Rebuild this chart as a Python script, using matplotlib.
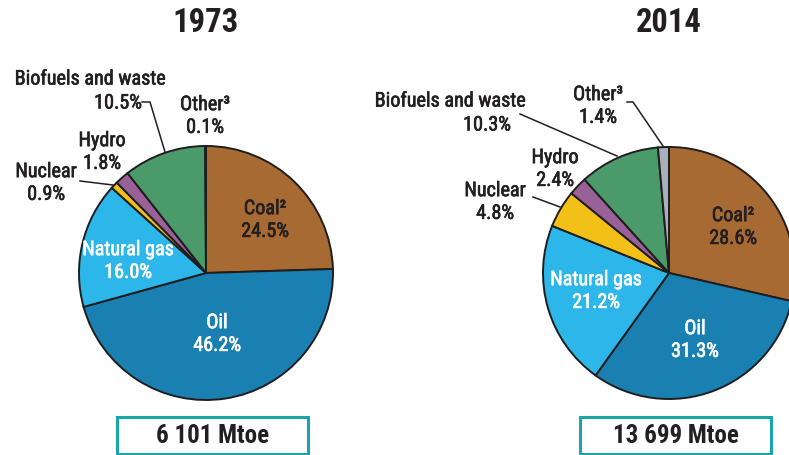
import matplotlib.pyplot as plt
import matplotlib.patches as mpatches
import matplotlib.patheffects as pe

# data
years = ['1973', '2014']
totals = ['6 101 Mtoe', '13 699 Mtoe']
sources = ['Coal²', 'Oil', 'Natural gas', 'Nuclear', 'Hydro', 'Biofuels and waste', 'Other³']
share_1973 = [24.5, 46.2, 16.0, 0.9, 1.8, 10.5, 0.1]
share_2014 = [28.6, 31.3, 21.2, 4.8, 2.4, 10.3, 1.4]

colors = ['#A86A33', '#1A80B2', '#2DB6EA', '#F3C017', '#9A6199', '#4B9A69', '#A8B0BD']
txt_col = ['#231F20', 'white', 'white', '#231F20', '#231F20', '#231F20', '#231F20']

W, H = 789, 456
plt.rcParams['font.family'] = ['Roboto Condensed', 'Liberation Sans', 'DejaVu Sans']

fig = plt.figure(figsize=(W / 100, H / 100), dpi=100)
ax = fig.add_axes([0, 0, 1, 1])

pies = [(206, 274, 127), (669, 274, 126)]
# label centres in pixels (x, y from top)
label_pos = [
    [(265, 221), (217, 335), (128, 262), (46, 184), (102, 153), (90, 80), (205, 117)],
    [(733, 228), (695, 341), (596, 292), (495, 203), (555, 170), (450, 102), (598, 107)],
]
leaders = [
    [[(80, 182), (113, 186)], [(142, 103), (150, 103), (165, 153)]],
    [[(533, 198), (560, 208)], [(520, 115), (617, 157)], [(627, 103), (633, 103), (663, 147)]],
]
lab = dict(fontsize=14.5, linespacing=1.25)


def fy(y):
    return H - y


def thick(c):
    return [pe.withStroke(linewidth=0.45, foreground=c)]


for i, vals in enumerate([share_1973, share_2014]):
    cx, cy, r = pies[i]
    ax.pie(vals, colors=colors, startangle=90, counterclock=False,
           center=(cx, fy(cy)), radius=r,
           wedgeprops=dict(edgecolor='#1E1E1E', linewidth=1.4))
    for j, v in enumerate(vals):
        x, y = label_pos[i][j]
        c = txt_col[j]
        if j == 5:
            # percentage sits right of the name
            ax.text(x, fy(y), sources[j], ha='center', va='center', color=c,
                    path_effects=thick(c), **lab)
            off = 28 if i == 0 else 37
            ax.text(x + off, fy(y + 24), f'{v:.1f}%', ha='center', va='center',
                    color=c, path_effects=thick(c), **lab)
        else:
            ax.text(x, fy(y), f'{sources[j]}\n{v:.1f}%', ha='center', va='center',
                    color=c, path_effects=thick(c), **lab)
    for seg in leaders[i]:
        ax.plot([p[0] for p in seg], [fy(p[1]) for p in seg], color='#231F20', lw=1.1)

    ax.text(cx, fy(23), years[i], ha='center', va='center', fontsize=23.5,
            fontweight='bold', color='#231F20')

    bx = cx - 89
    ax.add_patch(mpatches.Rectangle((bx, fy(455)), 191, 37, facecolor='white',
                                    edgecolor='#1AA6A8', lw=2.2))
    ax.text(bx + 95.5, fy(436.5), totals[i], ha='center', va='center', fontsize=18,
            fontweight='bold', color='#231F20')

ax.set_xlim(0, W)
ax.set_ylim(0, H)
ax.set_aspect('equal')
ax.axis('off')

fig.savefig('out.png', dpi=100)
